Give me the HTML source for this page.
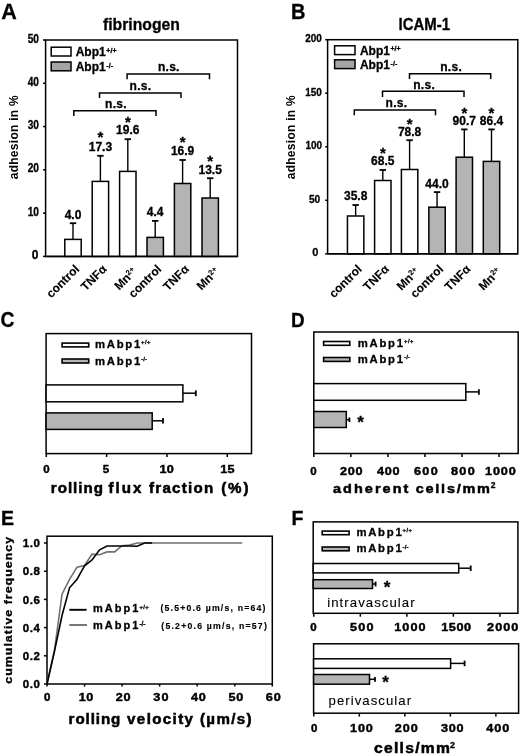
<!DOCTYPE html>
<html><head><meta charset="utf-8"><style>
html,body{margin:0;padding:0;background:#fff;width:520px;height:755px;overflow:hidden}
svg{display:block;font-family:"Liberation Sans", sans-serif;will-change:transform}
</style></head><body>
<svg width="520" height="755" viewBox="0 0 520 755">
<rect width="520" height="755" fill="#fff"/>
<text x="1.30" y="18.70" font-size="21.5" font-weight="bold" fill="#000" stroke="#000" stroke-width="0.3" >A</text>
<text x="141.50" y="29.80" font-size="16" font-weight="bold" fill="#000" stroke="#000" stroke-width="0.3" text-anchor="middle" textLength="77" lengthAdjust="spacingAndGlyphs" >fibrinogen</text>
<rect x="45.60" y="40.00" width="191.90" height="216.40" fill="none" stroke="#000" stroke-width="1.5"/>
<line x1="43.00" y1="40.00" x2="45.60" y2="40.00" stroke="#000" stroke-width="1.5"/>
<text x="39.00" y="42.60" font-size="12" font-weight="bold" fill="#000" stroke="#000" stroke-width="0.3" text-anchor="end" textLength="11.3" lengthAdjust="spacingAndGlyphs" >50</text>
<line x1="43.00" y1="83.28" x2="45.60" y2="83.28" stroke="#000" stroke-width="1.5"/>
<text x="39.00" y="85.88" font-size="12" font-weight="bold" fill="#000" stroke="#000" stroke-width="0.3" text-anchor="end" textLength="11.3" lengthAdjust="spacingAndGlyphs" >40</text>
<line x1="43.00" y1="126.56" x2="45.60" y2="126.56" stroke="#000" stroke-width="1.5"/>
<text x="39.00" y="129.16" font-size="12" font-weight="bold" fill="#000" stroke="#000" stroke-width="0.3" text-anchor="end" textLength="11.3" lengthAdjust="spacingAndGlyphs" >30</text>
<line x1="43.00" y1="169.84" x2="45.60" y2="169.84" stroke="#000" stroke-width="1.5"/>
<text x="39.00" y="172.44" font-size="12" font-weight="bold" fill="#000" stroke="#000" stroke-width="0.3" text-anchor="end" textLength="11.3" lengthAdjust="spacingAndGlyphs" >20</text>
<line x1="43.00" y1="213.12" x2="45.60" y2="213.12" stroke="#000" stroke-width="1.5"/>
<text x="39.00" y="215.72" font-size="12" font-weight="bold" fill="#000" stroke="#000" stroke-width="0.3" text-anchor="end" textLength="11.3" lengthAdjust="spacingAndGlyphs" >10</text>
<line x1="43.00" y1="256.40" x2="45.60" y2="256.40" stroke="#000" stroke-width="1.5"/>
<text x="38.40" y="259.00" font-size="12" font-weight="bold" fill="#000" stroke="#000" stroke-width="0.3" text-anchor="end" >0</text>
<text x="0" y="0" transform="translate(18.00 137.30) rotate(-90)" font-size="12" font-weight="bold" fill="#000" text-anchor="middle" textLength="84" lengthAdjust="spacing" >adhesion in %</text>
<rect x="51.20" y="47.20" width="19.80" height="8.80" fill="#fff" stroke="#000" stroke-width="1.5"/>
<rect x="51.20" y="62.00" width="19.80" height="8.80" fill="#a4a4a4" stroke="#000" stroke-width="1.5"/>
<text x="75.70" y="56.00" font-size="12" font-weight="bold" fill="#000" stroke="#000" stroke-width="0.3" >Abp1</text>
<text x="106.30" y="52.80" font-size="7" font-weight="bold" fill="#000" stroke="#000" stroke-width="0.3" textLength="10.2" lengthAdjust="spacing" >+/+</text>
<text x="75.70" y="70.70" font-size="12" font-weight="bold" fill="#000" stroke="#000" stroke-width="0.3" >Abp1</text>
<text x="106.30" y="67.60" font-size="7" font-weight="bold" fill="#000" stroke="#000" stroke-width="0.3" textLength="6.8" lengthAdjust="spacing" >-/-</text>
<path d="M127.1 79.3 V74.05 H209.5 V79.3" stroke="#000" stroke-width="1.5" fill="none" />
<path d="M99.5 98 V93 H181 V98" stroke="#000" stroke-width="1.5" fill="none" />
<path d="M73.8 116 V110.8 H156 V116" stroke="#000" stroke-width="1.5" fill="none" />
<text x="168.70" y="70.90" font-size="12" font-weight="bold" fill="#000" stroke="#000" stroke-width="0.3" text-anchor="middle" textLength="21.5" lengthAdjust="spacing" >n.s.</text>
<text x="140.30" y="89.90" font-size="12" font-weight="bold" fill="#000" stroke="#000" stroke-width="0.3" text-anchor="middle" textLength="21.5" lengthAdjust="spacing" >n.s.</text>
<text x="115.80" y="107.90" font-size="12" font-weight="bold" fill="#000" stroke="#000" stroke-width="0.3" text-anchor="middle" textLength="21.5" lengthAdjust="spacing" >n.s.</text>
<line x1="73.00" y1="239.40" x2="73.00" y2="223.20" stroke="#000" stroke-width="1.4"/>
<line x1="69.80" y1="223.20" x2="76.20" y2="223.20" stroke="#000" stroke-width="1.8"/>
<rect x="64.80" y="239.40" width="16.40" height="17.00" fill="#fff" stroke="#000" stroke-width="1.5"/>
<text x="73.00" y="219.20" font-size="12" font-weight="bold" fill="#000" stroke="#000" stroke-width="0.3" text-anchor="middle" >4.0</text>
<line x1="100.40" y1="181.40" x2="100.40" y2="155.80" stroke="#000" stroke-width="1.4"/>
<line x1="97.20" y1="155.80" x2="103.60" y2="155.80" stroke="#000" stroke-width="1.8"/>
<rect x="92.20" y="181.40" width="16.40" height="75.00" fill="#fff" stroke="#000" stroke-width="1.5"/>
<text x="100.40" y="151.20" font-size="12" font-weight="bold" fill="#000" stroke="#000" stroke-width="0.3" text-anchor="middle" >17.3</text>
<text x="100.40" y="142.15" font-size="15" font-weight="bold" fill="#000" stroke="#000" stroke-width="0.3" text-anchor="middle" >*</text>
<line x1="127.80" y1="171.40" x2="127.80" y2="139.20" stroke="#000" stroke-width="1.4"/>
<line x1="124.60" y1="139.20" x2="131.00" y2="139.20" stroke="#000" stroke-width="1.8"/>
<rect x="119.60" y="171.40" width="16.40" height="85.00" fill="#fff" stroke="#000" stroke-width="1.5"/>
<text x="127.80" y="134.10" font-size="12" font-weight="bold" fill="#000" stroke="#000" stroke-width="0.3" text-anchor="middle" >19.6</text>
<text x="127.80" y="126.85" font-size="15" font-weight="bold" fill="#000" stroke="#000" stroke-width="0.3" text-anchor="middle" >*</text>
<line x1="155.20" y1="237.40" x2="155.20" y2="220.90" stroke="#000" stroke-width="1.4"/>
<line x1="152.00" y1="220.90" x2="158.40" y2="220.90" stroke="#000" stroke-width="1.8"/>
<rect x="147.00" y="237.40" width="16.40" height="19.00" fill="#b4b4b4" stroke="#000" stroke-width="1.5"/>
<text x="155.20" y="216.40" font-size="12" font-weight="bold" fill="#000" stroke="#000" stroke-width="0.3" text-anchor="middle" >4.4</text>
<line x1="182.60" y1="183.50" x2="182.60" y2="160.00" stroke="#000" stroke-width="1.4"/>
<line x1="179.40" y1="160.00" x2="185.80" y2="160.00" stroke="#000" stroke-width="1.8"/>
<rect x="174.40" y="183.50" width="16.40" height="72.90" fill="#b4b4b4" stroke="#000" stroke-width="1.5"/>
<text x="182.60" y="154.90" font-size="12" font-weight="bold" fill="#000" stroke="#000" stroke-width="0.3" text-anchor="middle" >16.9</text>
<text x="182.60" y="147.45" font-size="15" font-weight="bold" fill="#000" stroke="#000" stroke-width="0.3" text-anchor="middle" >*</text>
<line x1="210.20" y1="198.00" x2="210.20" y2="178.20" stroke="#000" stroke-width="1.4"/>
<line x1="207.00" y1="178.20" x2="213.40" y2="178.20" stroke="#000" stroke-width="1.8"/>
<rect x="202.00" y="198.00" width="16.40" height="58.40" fill="#b4b4b4" stroke="#000" stroke-width="1.5"/>
<text x="210.20" y="173.90" font-size="12" font-weight="bold" fill="#000" stroke="#000" stroke-width="0.3" text-anchor="middle" >13.5</text>
<text x="210.20" y="165.55" font-size="15" font-weight="bold" fill="#000" stroke="#000" stroke-width="0.3" text-anchor="middle" >*</text>
<line x1="45.60" y1="256.40" x2="237.50" y2="256.40" stroke="#000" stroke-width="1.5"/>
<text x="0" y="0" transform="translate(80.00 269.80) rotate(-45)" font-size="12" font-weight="bold" fill="#000" stroke="#000" stroke-width="0.1" text-anchor="end" >control</text>
<text x="0" y="0" transform="translate(107.40 269.80) rotate(-45)" font-size="12" font-weight="bold" fill="#000" stroke="#000" stroke-width="0.1" text-anchor="end" >TNF&#945;</text>
<g transform="translate(131.40 278.60) rotate(-45)"><text x="0" y="0" font-size="12" font-weight="bold" text-anchor="end" stroke="#000" stroke-width="0.1">Mn</text><text x="0.3" y="-3.9" font-size="7.5" font-weight="bold" stroke="#000" stroke-width="0.1">2+</text></g>
<text x="0" y="0" transform="translate(162.20 269.80) rotate(-45)" font-size="12" font-weight="bold" fill="#000" stroke="#000" stroke-width="0.1" text-anchor="end" >control</text>
<text x="0" y="0" transform="translate(189.60 269.80) rotate(-45)" font-size="12" font-weight="bold" fill="#000" stroke="#000" stroke-width="0.1" text-anchor="end" >TNF&#945;</text>
<g transform="translate(213.80 278.60) rotate(-45)"><text x="0" y="0" font-size="12" font-weight="bold" text-anchor="end" stroke="#000" stroke-width="0.1">Mn</text><text x="0.3" y="-3.9" font-size="7.5" font-weight="bold" stroke="#000" stroke-width="0.1">2+</text></g>
<text x="0" y="0" transform="translate(290.90 18.70) scale(0.93 1)" font-size="21.5" font-weight="bold" fill="#000" stroke="#000" stroke-width="0.3" >B</text>
<text x="424.30" y="29.70" font-size="16" font-weight="bold" fill="#000" stroke="#000" stroke-width="0.3" text-anchor="middle" textLength="51.5" lengthAdjust="spacingAndGlyphs" >ICAM-1</text>
<rect x="327.60" y="39.70" width="190.20" height="214.10" fill="none" stroke="#000" stroke-width="1.5"/>
<line x1="325.20" y1="39.70" x2="327.60" y2="39.70" stroke="#000" stroke-width="1.5"/>
<text x="321.90" y="42.30" font-size="11" font-weight="bold" fill="#000" stroke="#000" stroke-width="0.3" text-anchor="end" textLength="16.6" lengthAdjust="spacingAndGlyphs" >200</text>
<line x1="325.20" y1="93.23" x2="327.60" y2="93.23" stroke="#000" stroke-width="1.5"/>
<text x="321.90" y="95.83" font-size="11" font-weight="bold" fill="#000" stroke="#000" stroke-width="0.3" text-anchor="end" textLength="16.6" lengthAdjust="spacingAndGlyphs" >150</text>
<line x1="325.20" y1="146.75" x2="327.60" y2="146.75" stroke="#000" stroke-width="1.5"/>
<text x="322.10" y="149.35" font-size="11" font-weight="bold" fill="#000" stroke="#000" stroke-width="0.3" text-anchor="end" textLength="16.6" lengthAdjust="spacingAndGlyphs" >100</text>
<line x1="325.20" y1="200.28" x2="327.60" y2="200.28" stroke="#000" stroke-width="1.5"/>
<text x="320.20" y="202.88" font-size="11" font-weight="bold" fill="#000" stroke="#000" stroke-width="0.3" text-anchor="end" textLength="11.3" lengthAdjust="spacingAndGlyphs" >50</text>
<line x1="325.20" y1="253.80" x2="327.60" y2="253.80" stroke="#000" stroke-width="1.5"/>
<text x="318.30" y="256.40" font-size="11" font-weight="bold" fill="#000" stroke="#000" stroke-width="0.3" text-anchor="end" >0</text>
<text x="0" y="0" transform="translate(295.00 137.30) rotate(-90)" font-size="12" font-weight="bold" fill="#000" text-anchor="middle" textLength="84" lengthAdjust="spacing" >adhesion in %</text>
<rect x="334.60" y="45.80" width="20.40" height="8.80" fill="#fff" stroke="#000" stroke-width="1.5"/>
<rect x="334.60" y="59.80" width="20.40" height="8.80" fill="#a4a4a4" stroke="#000" stroke-width="1.5"/>
<text x="359.90" y="54.50" font-size="12" font-weight="bold" fill="#000" stroke="#000" stroke-width="0.3" >Abp1</text>
<text x="390.50" y="51.30" font-size="7" font-weight="bold" fill="#000" stroke="#000" stroke-width="0.3" textLength="10.2" lengthAdjust="spacing" >+/+</text>
<text x="359.90" y="68.80" font-size="12" font-weight="bold" fill="#000" stroke="#000" stroke-width="0.3" >Abp1</text>
<text x="390.50" y="65.60" font-size="7" font-weight="bold" fill="#000" stroke="#000" stroke-width="0.3" textLength="6.8" lengthAdjust="spacing" >-/-</text>
<path d="M409.5 79.1 V73.8 H490.7 V79.1" stroke="#000" stroke-width="1.5" fill="none" />
<path d="M382.5 97 V91.3 H464 V97" stroke="#000" stroke-width="1.5" fill="none" />
<path d="M354.3 115.2 V110 H435.5 V115.2" stroke="#000" stroke-width="1.5" fill="none" />
<text x="451.00" y="70.90" font-size="12" font-weight="bold" fill="#000" stroke="#000" stroke-width="0.3" text-anchor="middle" textLength="21.5" lengthAdjust="spacing" >n.s.</text>
<text x="424.00" y="88.50" font-size="12" font-weight="bold" fill="#000" stroke="#000" stroke-width="0.3" text-anchor="middle" textLength="21.5" lengthAdjust="spacing" >n.s.</text>
<text x="396.30" y="107.00" font-size="12" font-weight="bold" fill="#000" stroke="#000" stroke-width="0.3" text-anchor="middle" textLength="21.5" lengthAdjust="spacing" >n.s.</text>
<line x1="355.65" y1="216.00" x2="355.65" y2="205.00" stroke="#000" stroke-width="1.4"/>
<line x1="352.45" y1="205.00" x2="358.85" y2="205.00" stroke="#000" stroke-width="1.8"/>
<rect x="347.45" y="216.00" width="16.40" height="37.80" fill="#fff" stroke="#000" stroke-width="1.5"/>
<text x="355.65" y="200.20" font-size="12" font-weight="bold" fill="#000" stroke="#000" stroke-width="0.3" text-anchor="middle" >35.8</text>
<line x1="382.80" y1="180.50" x2="382.80" y2="170.00" stroke="#000" stroke-width="1.4"/>
<line x1="379.60" y1="170.00" x2="386.00" y2="170.00" stroke="#000" stroke-width="1.8"/>
<rect x="374.60" y="180.50" width="16.40" height="73.30" fill="#fff" stroke="#000" stroke-width="1.5"/>
<text x="382.80" y="164.90" font-size="12" font-weight="bold" fill="#000" stroke="#000" stroke-width="0.3" text-anchor="middle" >68.5</text>
<text x="382.80" y="157.95" font-size="15" font-weight="bold" fill="#000" stroke="#000" stroke-width="0.3" text-anchor="middle" >*</text>
<line x1="409.60" y1="169.50" x2="409.60" y2="140.20" stroke="#000" stroke-width="1.4"/>
<line x1="406.40" y1="140.20" x2="412.80" y2="140.20" stroke="#000" stroke-width="1.8"/>
<rect x="401.40" y="169.50" width="16.40" height="84.30" fill="#fff" stroke="#000" stroke-width="1.5"/>
<text x="409.60" y="135.70" font-size="12" font-weight="bold" fill="#000" stroke="#000" stroke-width="0.3" text-anchor="middle" >78.8</text>
<text x="409.60" y="128.75" font-size="15" font-weight="bold" fill="#000" stroke="#000" stroke-width="0.3" text-anchor="middle" >*</text>
<line x1="437.05" y1="207.20" x2="437.05" y2="192.10" stroke="#000" stroke-width="1.4"/>
<line x1="433.85" y1="192.10" x2="440.25" y2="192.10" stroke="#000" stroke-width="1.8"/>
<rect x="428.85" y="207.20" width="16.40" height="46.60" fill="#b4b4b4" stroke="#000" stroke-width="1.5"/>
<text x="437.05" y="187.90" font-size="12" font-weight="bold" fill="#000" stroke="#000" stroke-width="0.3" text-anchor="middle" >44.0</text>
<line x1="464.30" y1="157.20" x2="464.30" y2="129.40" stroke="#000" stroke-width="1.4"/>
<line x1="461.10" y1="129.40" x2="467.50" y2="129.40" stroke="#000" stroke-width="1.8"/>
<rect x="456.10" y="157.20" width="16.40" height="96.60" fill="#b4b4b4" stroke="#000" stroke-width="1.5"/>
<text x="464.30" y="125.30" font-size="12" font-weight="bold" fill="#000" stroke="#000" stroke-width="0.3" text-anchor="middle" >90.7</text>
<text x="464.30" y="118.05" font-size="15" font-weight="bold" fill="#000" stroke="#000" stroke-width="0.3" text-anchor="middle" >*</text>
<line x1="491.50" y1="161.40" x2="491.50" y2="129.40" stroke="#000" stroke-width="1.4"/>
<line x1="488.30" y1="129.40" x2="494.70" y2="129.40" stroke="#000" stroke-width="1.8"/>
<rect x="483.30" y="161.40" width="16.40" height="92.40" fill="#b4b4b4" stroke="#000" stroke-width="1.5"/>
<text x="491.50" y="125.30" font-size="12" font-weight="bold" fill="#000" stroke="#000" stroke-width="0.3" text-anchor="middle" >86.4</text>
<text x="491.50" y="118.05" font-size="15" font-weight="bold" fill="#000" stroke="#000" stroke-width="0.3" text-anchor="middle" >*</text>
<line x1="327.60" y1="253.80" x2="517.80" y2="253.80" stroke="#000" stroke-width="1.5"/>
<text x="0" y="0" transform="translate(362.65 269.80) rotate(-45)" font-size="12" font-weight="bold" fill="#000" stroke="#000" stroke-width="0.1" text-anchor="end" >control</text>
<text x="0" y="0" transform="translate(389.80 269.80) rotate(-45)" font-size="12" font-weight="bold" fill="#000" stroke="#000" stroke-width="0.1" text-anchor="end" >TNF&#945;</text>
<g transform="translate(413.80 278.80) rotate(-45)"><text x="0" y="0" font-size="12" font-weight="bold" text-anchor="end" stroke="#000" stroke-width="0.1">Mn</text><text x="0.3" y="-3.9" font-size="7.5" font-weight="bold" stroke="#000" stroke-width="0.1">2+</text></g>
<text x="0" y="0" transform="translate(444.05 269.80) rotate(-45)" font-size="12" font-weight="bold" fill="#000" stroke="#000" stroke-width="0.1" text-anchor="end" >control</text>
<text x="0" y="0" transform="translate(471.30 269.80) rotate(-45)" font-size="12" font-weight="bold" fill="#000" stroke="#000" stroke-width="0.1" text-anchor="end" >TNF&#945;</text>
<g transform="translate(495.70 278.80) rotate(-45)"><text x="0" y="0" font-size="12" font-weight="bold" text-anchor="end" stroke="#000" stroke-width="0.1">Mn</text><text x="0.3" y="-3.9" font-size="7.5" font-weight="bold" stroke="#000" stroke-width="0.1">2+</text></g>
<text x="0" y="0" transform="translate(0.60 327.40) scale(0.88 1)" font-size="22" font-weight="bold" fill="#000" stroke="#000" stroke-width="0.3" >C</text>
<rect x="46.10" y="333.60" width="205.40" height="120.00" fill="none" stroke="#000" stroke-width="1.5"/>
<rect x="62.10" y="343.10" width="26.60" height="3.80" fill="#fff" stroke="#000" stroke-width="1.6"/>
<rect x="62.10" y="359.00" width="26.60" height="4.00" fill="#b4b4b4" stroke="#000" stroke-width="1.6"/>
<text x="95.00" y="348.00" font-size="11.3" font-weight="bold" fill="#000" stroke="#000" stroke-width="0.3" textLength="45.2" lengthAdjust="spacing" >mAbp1</text>
<text x="141.00" y="344.20" font-size="5.8" font-weight="bold" fill="#000" stroke="#000" stroke-width="0.3" textLength="9.4" lengthAdjust="spacing" >+/+</text>
<text x="95.00" y="364.50" font-size="11.3" font-weight="bold" fill="#000" stroke="#000" stroke-width="0.3" textLength="45.2" lengthAdjust="spacing" >mAbp1</text>
<text x="141.00" y="360.70" font-size="6.2" font-weight="bold" fill="#000" stroke="#000" stroke-width="0.3" textLength="6" lengthAdjust="spacing" >-/-</text>
<rect x="46.10" y="384.90" width="136.80" height="16.90" fill="#fff" stroke="#000" stroke-width="1.5"/>
<line x1="182.90" y1="393.20" x2="195.80" y2="393.20" stroke="#000" stroke-width="1.5"/>
<line x1="195.80" y1="390.40" x2="195.80" y2="396.20" stroke="#000" stroke-width="1.8"/>
<rect x="46.10" y="412.90" width="106.10" height="16.50" fill="#b4b4b4" stroke="#000" stroke-width="1.5"/>
<line x1="152.20" y1="420.80" x2="163.00" y2="420.80" stroke="#000" stroke-width="1.5"/>
<line x1="163.00" y1="418.00" x2="163.00" y2="423.60" stroke="#000" stroke-width="1.8"/>
<line x1="46.30" y1="453.60" x2="46.30" y2="457.00" stroke="#000" stroke-width="1.5"/>
<text x="46.45" y="473.40" font-size="11.5" font-weight="bold" fill="#000" stroke="#000" stroke-width="0.45" text-anchor="middle" >0</text>
<line x1="106.63" y1="453.60" x2="106.63" y2="457.00" stroke="#000" stroke-width="1.5"/>
<text x="106.05" y="473.40" font-size="11.5" font-weight="bold" fill="#000" stroke="#000" stroke-width="0.45" text-anchor="middle" >5</text>
<line x1="166.97" y1="453.60" x2="166.97" y2="457.00" stroke="#000" stroke-width="1.5"/>
<text x="0" y="0" transform="translate(166.85 473.40) scale(1.1 1)" font-size="11.5" font-weight="bold" fill="#000" stroke="#000" stroke-width="0.45" text-anchor="middle" letter-spacing="0.254" >10</text>
<line x1="227.30" y1="453.60" x2="227.30" y2="457.00" stroke="#000" stroke-width="1.5"/>
<text x="0" y="0" transform="translate(227.40 473.40) scale(1.1 1)" font-size="11.5" font-weight="bold" fill="#000" stroke="#000" stroke-width="0.45" text-anchor="middle" letter-spacing="0.163" >15</text>
<text x="0" y="0" transform="translate(77.40 493.40) scale(1.08 1)" font-size="14" font-weight="bold" fill="#000" stroke="#000" stroke-width="0.5" text-anchor="middle" letter-spacing="0.942" >rolling</text>
<text x="0" y="0" transform="translate(126.00 493.40) scale(1.08 1)" font-size="14" font-weight="bold" fill="#000" stroke="#000" stroke-width="0.5" text-anchor="middle" letter-spacing="1.919" >flux</text>
<text x="0" y="0" transform="translate(181.75 493.40) scale(1.08 1)" font-size="14" font-weight="bold" fill="#000" stroke="#000" stroke-width="0.5" text-anchor="middle" letter-spacing="1.184" >fraction</text>
<text x="0" y="0" transform="translate(235.75 493.40) scale(1.08 1)" font-size="14" font-weight="bold" fill="#000" stroke="#000" stroke-width="0.5" text-anchor="middle" letter-spacing="1.706" >(%)</text>
<text x="0" y="0" transform="translate(291.00 327.20) scale(0.9 1)" font-size="21" font-weight="bold" fill="#000" stroke="#000" stroke-width="0.3" >D</text>
<rect x="313.80" y="332.00" width="204.40" height="121.50" fill="none" stroke="#000" stroke-width="1.5"/>
<rect x="323.60" y="341.50" width="26.20" height="3.80" fill="#fff" stroke="#000" stroke-width="1.6"/>
<rect x="323.60" y="357.50" width="26.20" height="3.90" fill="#b4b4b4" stroke="#000" stroke-width="1.6"/>
<text x="357.80" y="346.60" font-size="11.3" font-weight="bold" fill="#000" stroke="#000" stroke-width="0.3" textLength="45.2" lengthAdjust="spacing" >mAbp1</text>
<text x="404.00" y="343.00" font-size="5.8" font-weight="bold" fill="#000" stroke="#000" stroke-width="0.3" textLength="9.4" lengthAdjust="spacing" >+/+</text>
<text x="357.80" y="362.90" font-size="11.3" font-weight="bold" fill="#000" stroke="#000" stroke-width="0.3" textLength="45.2" lengthAdjust="spacing" >mAbp1</text>
<text x="404.00" y="359.30" font-size="6.2" font-weight="bold" fill="#000" stroke="#000" stroke-width="0.3" textLength="6" lengthAdjust="spacing" >-/-</text>
<rect x="313.80" y="383.60" width="152.00" height="16.70" fill="#fff" stroke="#000" stroke-width="1.5"/>
<line x1="465.80" y1="391.90" x2="478.90" y2="391.90" stroke="#000" stroke-width="1.5"/>
<line x1="478.90" y1="389.20" x2="478.90" y2="394.70" stroke="#000" stroke-width="1.8"/>
<rect x="313.80" y="411.50" width="32.50" height="16.00" fill="#b4b4b4" stroke="#000" stroke-width="1.5"/>
<line x1="346.30" y1="419.70" x2="349.40" y2="419.70" stroke="#000" stroke-width="1.5"/>
<line x1="349.40" y1="417.40" x2="349.40" y2="422.00" stroke="#000" stroke-width="1.8"/>
<text x="360.50" y="427.51" font-size="17" font-weight="bold" fill="#000" stroke="#000" stroke-width="0.3" text-anchor="middle" >*</text>
<line x1="313.80" y1="453.50" x2="313.80" y2="456.90" stroke="#000" stroke-width="1.5"/>
<text x="313.45" y="475.20" font-size="11.5" font-weight="bold" fill="#000" stroke="#000" stroke-width="0.45" text-anchor="middle" >0</text>
<line x1="350.85" y1="453.50" x2="350.85" y2="456.90" stroke="#000" stroke-width="1.5"/>
<text x="0" y="0" transform="translate(351.60 475.20) scale(1.1 1)" font-size="11.5" font-weight="bold" fill="#000" stroke="#000" stroke-width="0.45" text-anchor="middle" letter-spacing="0.701" >200</text>
<line x1="387.90" y1="453.50" x2="387.90" y2="456.90" stroke="#000" stroke-width="1.5"/>
<text x="0" y="0" transform="translate(388.60 475.20) scale(1.1 1)" font-size="11.5" font-weight="bold" fill="#000" stroke="#000" stroke-width="0.45" text-anchor="middle" letter-spacing="0.701" >400</text>
<line x1="424.95" y1="453.50" x2="424.95" y2="456.90" stroke="#000" stroke-width="1.5"/>
<text x="0" y="0" transform="translate(426.45 475.20) scale(1.1 1)" font-size="11.5" font-weight="bold" fill="#000" stroke="#000" stroke-width="0.45" text-anchor="middle" letter-spacing="1.201" >600</text>
<line x1="462.00" y1="453.50" x2="462.00" y2="456.90" stroke="#000" stroke-width="1.5"/>
<text x="0" y="0" transform="translate(463.50 475.20) scale(1.1 1)" font-size="11.5" font-weight="bold" fill="#000" stroke="#000" stroke-width="0.45" text-anchor="middle" letter-spacing="1.156" >800</text>
<line x1="499.05" y1="453.50" x2="499.05" y2="456.90" stroke="#000" stroke-width="1.5"/>
<text x="0" y="0" transform="translate(500.85 475.20) scale(1.1 1)" font-size="11.5" font-weight="bold" fill="#000" stroke="#000" stroke-width="0.45" text-anchor="middle" letter-spacing="0.79" >1000</text>
<text x="0" y="0" transform="translate(371.70 492.80) scale(1.08 1)" font-size="13.4" font-weight="bold" fill="#000" stroke="#000" stroke-width="0.5" text-anchor="middle" letter-spacing="1.894" >adherent</text>
<text x="0" y="0" transform="translate(453.70 492.80) scale(1.08 1)" font-size="13.4" font-weight="bold" fill="#000" stroke="#000" stroke-width="0.5" text-anchor="middle" letter-spacing="1.627" >cells/mm</text>
<text x="490.80" y="488.10" font-size="8.5" font-weight="bold" fill="#000" stroke="#000" stroke-width="0.3" >2</text>
<text x="1.00" y="525.00" font-size="19.5" font-weight="bold" fill="#000" stroke="#000" stroke-width="0.3" >E</text>
<rect x="47.00" y="536.20" width="225.30" height="147.80" fill="none" stroke="#000" stroke-width="1.5"/>
<line x1="44.00" y1="684.00" x2="47.00" y2="684.00" stroke="#000" stroke-width="1.5"/>
<text x="40.30" y="688.20" font-size="11.5" font-weight="bold" fill="#000" stroke="#000" stroke-width="0.4" text-anchor="end" letter-spacing="0.5" >0.0</text>
<line x1="44.00" y1="655.80" x2="47.00" y2="655.80" stroke="#000" stroke-width="1.5"/>
<text x="40.30" y="660.00" font-size="11.5" font-weight="bold" fill="#000" stroke="#000" stroke-width="0.4" text-anchor="end" letter-spacing="0.5" >0.2</text>
<line x1="44.00" y1="627.60" x2="47.00" y2="627.60" stroke="#000" stroke-width="1.5"/>
<text x="40.30" y="631.80" font-size="11.5" font-weight="bold" fill="#000" stroke="#000" stroke-width="0.4" text-anchor="end" letter-spacing="0.5" >0.4</text>
<line x1="44.00" y1="599.40" x2="47.00" y2="599.40" stroke="#000" stroke-width="1.5"/>
<text x="40.30" y="603.60" font-size="11.5" font-weight="bold" fill="#000" stroke="#000" stroke-width="0.4" text-anchor="end" letter-spacing="0.5" >0.6</text>
<line x1="44.00" y1="571.20" x2="47.00" y2="571.20" stroke="#000" stroke-width="1.5"/>
<text x="40.30" y="575.40" font-size="11.5" font-weight="bold" fill="#000" stroke="#000" stroke-width="0.4" text-anchor="end" letter-spacing="0.5" >0.8</text>
<line x1="44.00" y1="543.00" x2="47.00" y2="543.00" stroke="#000" stroke-width="1.5"/>
<text x="40.30" y="547.20" font-size="11.5" font-weight="bold" fill="#000" stroke="#000" stroke-width="0.4" text-anchor="end" letter-spacing="0.5" >1.0</text>
<line x1="47.00" y1="684.00" x2="47.00" y2="686.60" stroke="#000" stroke-width="1.5"/>
<text x="47.25" y="700.70" font-size="11.5" font-weight="bold" fill="#000" stroke="#000" stroke-width="0.45" text-anchor="middle" >0</text>
<line x1="84.55" y1="684.00" x2="84.55" y2="686.60" stroke="#000" stroke-width="1.5"/>
<text x="0" y="0" transform="translate(86.15 700.70) scale(1.1 1)" font-size="11.5" font-weight="bold" fill="#000" stroke="#000" stroke-width="0.45" text-anchor="middle" letter-spacing="0.435" >10</text>
<line x1="122.10" y1="684.00" x2="122.10" y2="686.60" stroke="#000" stroke-width="1.5"/>
<text x="0" y="0" transform="translate(123.45 700.70) scale(1.1 1)" font-size="11.5" font-weight="bold" fill="#000" stroke="#000" stroke-width="0.45" text-anchor="middle" letter-spacing="0.617" >20</text>
<line x1="159.65" y1="684.00" x2="159.65" y2="686.60" stroke="#000" stroke-width="1.5"/>
<text x="0" y="0" transform="translate(161.60 700.70) scale(1.1 1)" font-size="11.5" font-weight="bold" fill="#000" stroke="#000" stroke-width="0.45" text-anchor="middle" letter-spacing="1.254" >30</text>
<line x1="197.20" y1="684.00" x2="197.20" y2="686.60" stroke="#000" stroke-width="1.5"/>
<text x="0" y="0" transform="translate(198.70 700.70) scale(1.1 1)" font-size="11.5" font-weight="bold" fill="#000" stroke="#000" stroke-width="0.45" text-anchor="middle" letter-spacing="0.708" >40</text>
<line x1="234.75" y1="684.00" x2="234.75" y2="686.60" stroke="#000" stroke-width="1.5"/>
<text x="0" y="0" transform="translate(236.35 700.70) scale(1.1 1)" font-size="11.5" font-weight="bold" fill="#000" stroke="#000" stroke-width="0.45" text-anchor="middle" letter-spacing="0.799" >50</text>
<line x1="272.30" y1="684.00" x2="272.30" y2="686.60" stroke="#000" stroke-width="1.5"/>
<text x="0" y="0" transform="translate(273.75 700.70) scale(1.1 1)" font-size="11.5" font-weight="bold" fill="#000" stroke="#000" stroke-width="0.45" text-anchor="middle" letter-spacing="0.799" >60</text>
<text x="0" y="0" transform="translate(11.90 610.30) rotate(-90) scale(1.08 1)" font-size="11.5" font-weight="bold" fill="#000" stroke="#000" stroke-width="0.3" text-anchor="middle" textLength="136.11" lengthAdjust="spacing" >cumulative frequency</text>
<text x="0" y="0" transform="translate(94.90 723.50) scale(1.08 1)" font-size="14" font-weight="bold" fill="#000" stroke="#000" stroke-width="0.5" text-anchor="middle" letter-spacing="0.85" >rolling</text>
<text x="0" y="0" transform="translate(160.70 723.50) scale(1.08 1)" font-size="14" font-weight="bold" fill="#000" stroke="#000" stroke-width="0.5" text-anchor="middle" letter-spacing="1.268" >velocity</text>
<text x="0" y="0" transform="translate(226.45 723.50) scale(1.08 1)" font-size="14" font-weight="bold" fill="#000" stroke="#000" stroke-width="0.5" text-anchor="middle" letter-spacing="1.252" >(&#181;m/s)</text>
<polyline points="47.00,684.00 54.51,650.02 62.02,594.18 69.53,579.38 77.04,567.11 84.55,565.42 92.06,554.14 99.57,554.70 107.08,551.88 114.59,551.88 122.10,545.68 129.61,545.12 137.12,543.00 242.26,543.00" fill="none" stroke="#707070" stroke-width="1.6"/>
<polyline points="47.00,684.00 54.51,651.15 62.02,615.47 69.53,587.84 77.04,579.38 84.55,565.84 92.06,559.92 99.57,549.77 107.08,545.96 129.61,545.96 137.12,546.24 144.63,543.00 152.14,543.00" fill="none" stroke="#000" stroke-width="1.6"/>
<line x1="69.30" y1="609.80" x2="86.60" y2="609.80" stroke="#000" stroke-width="1.9"/>
<line x1="69.30" y1="625.00" x2="87.00" y2="625.00" stroke="#707070" stroke-width="1.9"/>
<text x="93.00" y="611.70" font-size="11" font-weight="bold" fill="#000" stroke="#000" stroke-width="0.3" textLength="45.4" lengthAdjust="spacing" >mAbp1</text>
<text x="139.60" y="608.60" font-size="5.8" font-weight="bold" fill="#000" stroke="#000" stroke-width="0.3" textLength="9.0" lengthAdjust="spacing" >+/+</text>
<text x="93.00" y="629.30" font-size="11" font-weight="bold" fill="#000" stroke="#000" stroke-width="0.3" textLength="45.4" lengthAdjust="spacing" >mAbp1</text>
<text x="139.60" y="625.80" font-size="6.5" font-weight="bold" fill="#000" stroke="#000" stroke-width="0.3" textLength="5.8" lengthAdjust="spacing" >-/-</text>
<text x="160.40" y="611.00" font-size="8.7" font-weight="bold" fill="#000" stroke="#000" stroke-width="0.15" textLength="105" lengthAdjust="spacing" >(5.5+0.6 &#181;m/s, n=64)</text>
<text x="161.30" y="629.20" font-size="8.7" font-weight="bold" fill="#000" stroke="#000" stroke-width="0.15" textLength="105.5" lengthAdjust="spacing" >(5.2+0.6 &#181;m/s, n=57)</text>
<text x="291.50" y="525.00" font-size="19.5" font-weight="bold" fill="#000" stroke="#000" stroke-width="0.3" >F</text>
<rect x="313.20" y="521.90" width="204.70" height="91.40" fill="none" stroke="#000" stroke-width="1.5"/>
<rect x="322.20" y="531.10" width="26.90" height="3.60" fill="#fff" stroke="#000" stroke-width="1.6"/>
<rect x="322.20" y="547.00" width="26.90" height="3.80" fill="#b4b4b4" stroke="#000" stroke-width="1.6"/>
<text x="356.40" y="536.00" font-size="11.3" font-weight="bold" fill="#000" stroke="#000" stroke-width="0.3" textLength="45.3" lengthAdjust="spacing" >mAbp1</text>
<text x="402.60" y="532.40" font-size="5.8" font-weight="bold" fill="#000" stroke="#000" stroke-width="0.3" textLength="9.4" lengthAdjust="spacing" >+/+</text>
<text x="356.40" y="552.20" font-size="11.3" font-weight="bold" fill="#000" stroke="#000" stroke-width="0.3" textLength="45.3" lengthAdjust="spacing" >mAbp1</text>
<text x="402.60" y="548.70" font-size="6.2" font-weight="bold" fill="#000" stroke="#000" stroke-width="0.3" textLength="6" lengthAdjust="spacing" >-/-</text>
<rect x="313.20" y="563.50" width="145.50" height="9.40" fill="#fff" stroke="#000" stroke-width="1.5"/>
<line x1="458.70" y1="568.20" x2="470.70" y2="568.20" stroke="#000" stroke-width="1.5"/>
<line x1="470.70" y1="565.50" x2="470.70" y2="571.00" stroke="#000" stroke-width="1.8"/>
<rect x="313.20" y="579.70" width="59.30" height="8.80" fill="#b4b4b4" stroke="#000" stroke-width="1.5"/>
<line x1="372.50" y1="584.00" x2="375.60" y2="584.00" stroke="#000" stroke-width="1.5"/>
<line x1="375.60" y1="581.60" x2="375.60" y2="586.40" stroke="#000" stroke-width="1.8"/>
<text x="387.00" y="592.61" font-size="17" font-weight="bold" fill="#000" stroke="#000" stroke-width="0.3" text-anchor="middle" >*</text>
<text x="0" y="0" transform="translate(371.45 607.00) scale(1.1 1)" font-size="12" font-weight="normal" fill="#000" stroke="#000" stroke-width="0.1" text-anchor="middle" letter-spacing="0.952" >intravascular</text>
<line x1="313.80" y1="613.30" x2="313.80" y2="616.70" stroke="#000" stroke-width="1.5"/>
<text x="313.50" y="631.30" font-size="11.5" font-weight="bold" fill="#000" stroke="#000" stroke-width="0.45" text-anchor="middle" >0</text>
<line x1="360.32" y1="613.30" x2="360.32" y2="616.70" stroke="#000" stroke-width="1.5"/>
<text x="0" y="0" transform="translate(362.45 631.30) scale(1.1 1)" font-size="11.5" font-weight="bold" fill="#000" stroke="#000" stroke-width="0.45" text-anchor="middle" letter-spacing="1.111" >500</text>
<line x1="406.85" y1="613.30" x2="406.85" y2="616.70" stroke="#000" stroke-width="1.5"/>
<text x="0" y="0" transform="translate(410.40 631.30) scale(1.1 1)" font-size="11.5" font-weight="bold" fill="#000" stroke="#000" stroke-width="0.45" text-anchor="middle" letter-spacing="0.942" >1000</text>
<line x1="453.38" y1="613.30" x2="453.38" y2="616.70" stroke="#000" stroke-width="1.5"/>
<text x="0" y="0" transform="translate(456.40 631.30) scale(1.1 1)" font-size="11.5" font-weight="bold" fill="#000" stroke="#000" stroke-width="0.45" text-anchor="middle" letter-spacing="0.457" >1500</text>
<line x1="499.90" y1="613.30" x2="499.90" y2="616.70" stroke="#000" stroke-width="1.5"/>
<text x="0" y="0" transform="translate(503.15 631.30) scale(1.1 1)" font-size="11.5" font-weight="bold" fill="#000" stroke="#000" stroke-width="0.45" text-anchor="middle" letter-spacing="0.911" >2000</text>
<rect x="313.60" y="643.80" width="205.00" height="69.40" fill="none" stroke="#000" stroke-width="1.5"/>
<rect x="313.60" y="658.80" width="137.00" height="9.60" fill="#fff" stroke="#000" stroke-width="1.5"/>
<line x1="450.60" y1="663.40" x2="464.60" y2="663.40" stroke="#000" stroke-width="1.5"/>
<line x1="464.60" y1="660.60" x2="464.60" y2="666.20" stroke="#000" stroke-width="1.8"/>
<rect x="313.60" y="674.50" width="55.90" height="9.70" fill="#b4b4b4" stroke="#000" stroke-width="1.5"/>
<line x1="369.50" y1="679.30" x2="375.00" y2="679.30" stroke="#000" stroke-width="1.5"/>
<line x1="375.00" y1="676.90" x2="375.00" y2="681.70" stroke="#000" stroke-width="1.8"/>
<text x="385.60" y="688.11" font-size="17" font-weight="bold" fill="#000" stroke="#000" stroke-width="0.3" text-anchor="middle" >*</text>
<text x="0" y="0" transform="translate(370.35 705.00) scale(1.1 1)" font-size="12" font-weight="normal" fill="#000" stroke="#000" stroke-width="0.1" text-anchor="middle" letter-spacing="0.945" >perivascular</text>
<line x1="313.80" y1="713.20" x2="313.80" y2="716.60" stroke="#000" stroke-width="1.5"/>
<text x="314.12" y="732.40" font-size="11.5" font-weight="bold" fill="#000" stroke="#000" stroke-width="0.45" text-anchor="middle" >0</text>
<line x1="359.32" y1="713.20" x2="359.32" y2="716.60" stroke="#000" stroke-width="1.5"/>
<text x="0" y="0" transform="translate(361.85 732.40) scale(1.1 1)" font-size="11.5" font-weight="bold" fill="#000" stroke="#000" stroke-width="0.45" text-anchor="middle" letter-spacing="0.838" >100</text>
<line x1="404.85" y1="713.20" x2="404.85" y2="716.60" stroke="#000" stroke-width="1.5"/>
<text x="0" y="0" transform="translate(406.65 732.40) scale(1.1 1)" font-size="11.5" font-weight="bold" fill="#000" stroke="#000" stroke-width="0.45" text-anchor="middle" letter-spacing="0.838" >200</text>
<line x1="450.38" y1="713.20" x2="450.38" y2="716.60" stroke="#000" stroke-width="1.5"/>
<text x="0" y="0" transform="translate(452.70 732.40) scale(1.1 1)" font-size="11.5" font-weight="bold" fill="#000" stroke="#000" stroke-width="0.45" text-anchor="middle" letter-spacing="0.701" >300</text>
<line x1="495.90" y1="713.20" x2="495.90" y2="716.60" stroke="#000" stroke-width="1.5"/>
<text x="0" y="0" transform="translate(498.30 732.40) scale(1.1 1)" font-size="11.5" font-weight="bold" fill="#000" stroke="#000" stroke-width="0.45" text-anchor="middle" letter-spacing="0.883" >400</text>
<text x="0" y="0" transform="translate(412.55 752.50) scale(1.08 1)" font-size="14.5" font-weight="bold" fill="#000" stroke="#000" stroke-width="0.5" text-anchor="middle" letter-spacing="1.193" >cells/mm</text>
<text x="450.00" y="747.60" font-size="9" font-weight="bold" fill="#000" stroke="#000" stroke-width="0.3" >2</text>
</svg>
</body></html>
